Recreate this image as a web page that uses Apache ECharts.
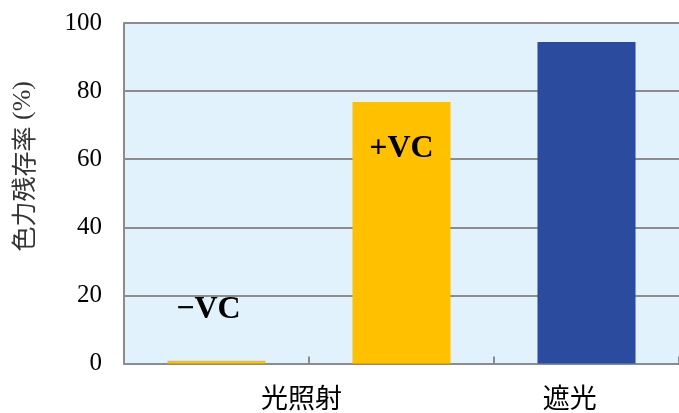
<!DOCTYPE html>
<html>
<head>
<meta charset="utf-8">
<script src="https://cdn.jsdelivr.net/npm/echarts@6/dist/echarts.min.js"></script>
<style>
  html, body { margin: 0; padding: 0; background: #fff; }
  #chart { width: 679px; height: 413px; }
</style>
</head>
<body>
<div id="chart"></div>
<script>
// bars, left to right
const categories = ['−VC', '+VC', '遮光'];
const values = [0.8, 76.8, 94.4];
const barColors = ['#FFC000', '#FFC000', '#2B4C9E'];
const barTags = ['−VC', '+VC', ''];
// group labels under the axis (position in category units)
const groupNames = ['光照射', '遮光'];
const groupCenters = [0.96, 2.41];
const yTicks = [0, 20, 40, 60, 80, 100];

const chart = echarts.init(document.getElementById('chart'), null, { renderer: 'canvas' });

const gray = '#8c8c8c';
const serif = '"Liberation Serif", "DejaVu Serif", serif';
const cjk = '"Noto Sans CJK JP", "Noto Sans CJK SC", sans-serif';

chart.setOption({
  animation: false,
  backgroundColor: '#ffffff',
  grid: {
    left: 124,
    right: -3,
    top: 23,
    bottom: 49.5,
    show: true,
    backgroundColor: '#E1F2FD',
    borderWidth: 0
  },
  xAxis: [
    {
      type: 'category',
      data: categories,
      axisLine: { lineStyle: { color: gray, width: 2 } },
      axisTick: { show: true, inside: true, length: 7, lineStyle: { color: gray, width: 2 } },
      axisLabel: { show: false }
    },
    {
      type: 'value',
      min: 0,
      max: 3,
      position: 'bottom',
      axisLine: { show: false },
      axisTick: { show: false },
      splitLine: { show: false },
      axisLabel: {
        customValues: groupCenters,
        formatter(v) {
          const i = groupCenters.indexOf(v);
          return i >= 0 ? groupNames[i] : '';
        },
        fontFamily: cjk,
        fontSize: 27,
        color: '#000',
        margin: 21
      }
    }
  ],
  yAxis: {
    type: 'value',
    min: yTicks[0],
    max: yTicks[yTicks.length - 1],
    interval: 20,
    name: '{c|色力残存率}{s| (%)}',
    nameLocation: 'middle',
    nameRotate: 90,
    nameGap: 88,
    nameTextStyle: {
      color: '#333',
      padding: [0, 0, 0, 54],
      rich: {
        c: { fontFamily: cjk, fontSize: 25, color: '#333' },
        s: { fontFamily: serif, fontSize: 26, color: '#333' }
      }
    },
    axisLine: { show: true, lineStyle: { color: gray, width: 2 } },
    axisTick: { show: false },
    splitLine: { lineStyle: { color: gray, width: 2 } },
    axisLabel: {
      fontFamily: serif,
      fontSize: 25,
      color: '#000',
      margin: 22
    }
  },
  series: [
    {
      type: 'bar',
      barWidth: '53%',
      data: values.map((v, i) => ({
        value: v,
        itemStyle: { color: barColors[i] },
        label: i === 0
          ? { show: true, position: 'top', distance: 35, offset: [-8, 0] }
          : { show: barTags[i] !== '', position: 'insideTop', distance: 31 }
      })),
      label: {
        formatter: (p) => barTags[p.dataIndex],
        fontFamily: serif,
        fontWeight: 'bold',
        fontSize: 32,
        color: '#000'
      }
    }
  ]
});
</script>
</body>
</html>
